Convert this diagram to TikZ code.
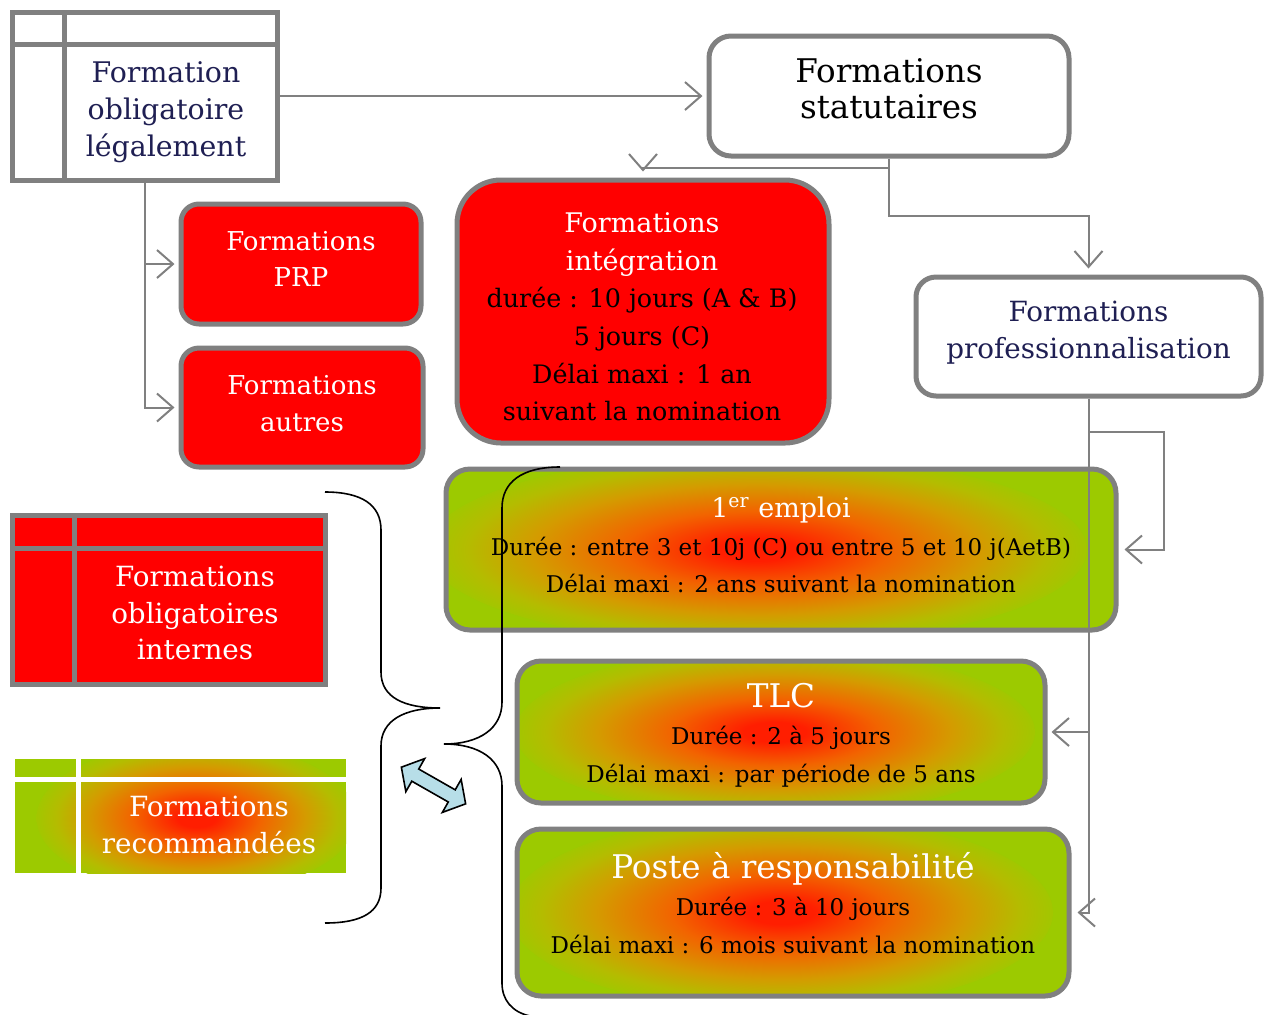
\documentclass[tikz,border=0pt]{standalone}
\usepackage{fontspec}
\setmainfont{DejaVu Serif}
\usetikzlibrary{arrows.meta,calc}
\definecolor{bgray}{RGB}{128,128,128}
\definecolor{navy}{RGB}{31,31,83}
\definecolor{pred}{RGB}{255,0,0}
\definecolor{ggreen}{RGB}{156,202,0}
\definecolor{gc}{RGB}{255,30,0}
\definecolor{go}{RGB}{242,100,0}
\definecolor{gg}{RGB}{212,155,0}
\definecolor{gy}{RGB}{180,188,0}
\definecolor{lblue}{RGB}{183,222,232}
\pgfdeclareradialshading{gradrg}{\pgfpoint{0bp}{0bp}}{color(0bp)=(gc); color(3bp)=(gc); color(10bp)=(go); color(17bp)=(gg); color(22bp)=(gy); color(26bp)=(ggreen); color(50bp)=(ggreen)}
\newcommand\fA{\fontsize{14.2}{18.6}\selectfont}
\newcommand\fB{\fontsize{13}{18.2}\selectfont}
\newcommand\fC{\fontsize{12.7}{18.8}\selectfont}
\newcommand\fD{\fontsize{13.9}{18.4}\selectfont}
\newcommand\fE{\fontsize{11.5}{18.7}\selectfont}
\newcommand\fF{\fontsize{13.5}{19}\selectfont}
\newcommand\fT{\fontsize{16.3}{18}\selectfont}
\tikzset{
  every node/.style={inner sep=0pt},
  tbox/.style={draw=bgray, line width=2.5pt},
  rbox/.style={draw=bgray, line width=2.5pt, rounded corners=#1},
  redbox/.style={rbox=#1, fill=pred},
  whitebox/.style={rbox=#1, fill=white},
  txt/.style={align=center},
  greenbox/.style args={#1/#2/#3/#4}{rbox=#1,
    path picture={\fill[ggreen] (path picture bounding box.south west) rectangle (path picture bounding box.north east);
      \shade[shading=gradrg] ([xshift=#4pt]path picture bounding box.center) ellipse [x radius=#2pt, y radius=#3pt];}},
  conn/.style={draw=bgray, line width=1pt, -{Straight Barb[length=8pt,width=14pt]}},
  brace/.style={draw=black, line width=0.8pt},
  grid/.style={draw=bgray, line width=2.5pt},
}
\begin{document}
\begin{tikzpicture}[x=0.5pt,y=-0.5pt]
\useasboundingbox (0,0) rectangle (1265,1014);
% top-left table
\node[tbox, fill=white, minimum width=132.5pt, minimum height=84pt] (tl) at (144.5,96) {};
\draw[grid] (64,12) -- (64,180) (12,44) -- (277,44);
\node[txt, text=navy, font=\fA] (tltext) at (166,112) {Formation\\obligatoire\\légalement};
% statutaires
\node[whitebox=11pt, minimum width=180pt, minimum height=60pt] (stat) at (889,96) {};
\node[txt, font=\fT] (stattext) at (889,89) {Formations\\statutaires};
% PRP / autres
\node[redbox=9pt, minimum width=120pt, minimum height=60pt] (prp) at (301,264) {};
\node[txt, text=white, font=\fB] (prptext) at (301,259) {Formations\\PRP};
\node[redbox=9pt, minimum width=121pt, minimum height=59.5pt] (autres) at (302,407.5) {};
\node[txt, text=white, font=\fB] (autrestext) at (302,403.5) {Formations\\autres};
% integration
\node[redbox=22pt, minimum width=186pt, minimum height=131.5pt] (integ) at (643,311.5) {};
\node[txt, font=\fC] (integtext) at (642,317) {\textcolor{white}{\fF Formations}\\\textcolor{white}{\fF intégration}\\durée : 10 jours (A \& B)\\5 jours (C)\\Délai maxi : 1 an\\suivant la nomination};
% professionnalisation
\node[whitebox=10pt, minimum width=172.5pt, minimum height=59.5pt] (prof) at (1088.5,336.5) {};
\node[txt, text=navy, font=\fD] (proftext) at (1088.5,333) {Formations\\professionnalisation};
% green boxes
\node[greenbox=12pt/165/48/-12, minimum width=335pt, minimum height=80.5pt] (emploi) at (781,549.5) {};
\node[txt, font=\fE] (emploitext) at (781,545) {\textcolor{white}{\fF 1\textsuperscript{er} emploi}\\Durée : entre 3 et 10j (C) ou entre 5 et 10 j(AetB)\\Délai maxi : 2 ans suivant la nomination};
\node[greenbox=12pt/130/42/-3, minimum width=264pt, minimum height=71pt] (tlc) at (781,732) {};
\node[txt, font=\fE] (tlctext) at (781,735) {\textcolor{white}{\fT TLC}\\Durée : 2 à 5 jours\\Délai maxi : par période de 5 ans};
\node[greenbox=12pt/136/49/-6, minimum width=276pt, minimum height=83.5pt] (poste) at (793,912.5) {};
\node[txt, font=\fE] (postetext) at (793,903) {\textcolor{white}{\fT Poste à responsabilité}\\Durée : 3 à 10 jours\\Délai maxi : 6 mois suivant la nomination};
% legend red
\node[tbox, fill=pred, minimum width=156.5pt, minimum height=84.5pt] (legred) at (168.5,599.5) {};
\draw[grid] (74,515) -- (74,684) (12,548) -- (325,548);
\node[txt, text=white, font=\fD] (legredtext) at (195,613) {Formations\\obligatoires\\internes};
% legend green
\node[minimum width=165.5pt, minimum height=57pt,
  path picture={\fill[ggreen] (path picture bounding box.south west) rectangle (path picture bounding box.north east);
    \shade[shading=gradrg] ([xshift=8pt,yshift=-1pt]path picture bounding box.center) ellipse [x radius=80pt, y radius=38pt];}] (leggreen) at (180.5,816) {};
\draw[white, line width=2.5pt] (78.5,759) -- (78.5,873) (15,779.5) -- (346,779.5);
\node[txt, text=white, font=\fD] (leggreentext) at (209,825) {Formations\\recommandées};
% connectors
\draw[conn, shorten >=2pt] (tl.east) -- (stat.west);
\coordinate (j1) at (889,168);
\coordinate (j2) at (889,216);
\draw[conn, shorten >=3pt] (stat.south) -- (j1) -| (integ.north);
\draw[conn, shorten >=3pt] (j1) -- (j2) -| (prof.north);
\draw[conn, shorten >=2pt] (tl.south) |- (prp.west);
\draw[conn, shorten >=2pt] (tl.south) |- (autres.west);
\coordinate (b1) at (1088.5,432);
\coordinate (b1r) at (1164,432);
\draw[conn, shorten >=3pt] (b1) -- (b1r) |- (emploi.east);
\draw[conn, shorten >=2pt] (prof.south |- tlc.east) -- (tlc.east);
\draw[conn, shorten >=3pt] (prof.south) |- (poste.east);
% braces
\draw[brace] (325,492) .. controls (362,492) and (381,505) .. (381,530) -- (381,672) .. controls (381,698) and (405,708) .. (440,708) .. controls (405,708) and (381,720) .. (381,746) -- (381,888) .. controls (381,912) and (362,923) .. (325,923);
\draw[brace] (560,467) .. controls (522,467) and (502,482) .. (502,508) -- (502,702) .. controls (502,728) and (480,744) .. (444,744) .. controls (480,744) and (502,760) .. (502,786) -- (502,983) .. controls (502,1000) and (512,1012) .. (530,1016);
% double arrow
\begin{scope}[shift={(433.5,785.5)}, rotate=-29.7]
\draw[fill=lblue, line width=0.8pt, line join=miter] (-37,0) -- (-21,19) -- (-21,7) -- (21,7) -- (21,19) -- (37,0) -- (21,-19) -- (21,-7) -- (-21,-7) -- (-21,-19) -- cycle;
\end{scope}
\end{tikzpicture}
\end{document}
